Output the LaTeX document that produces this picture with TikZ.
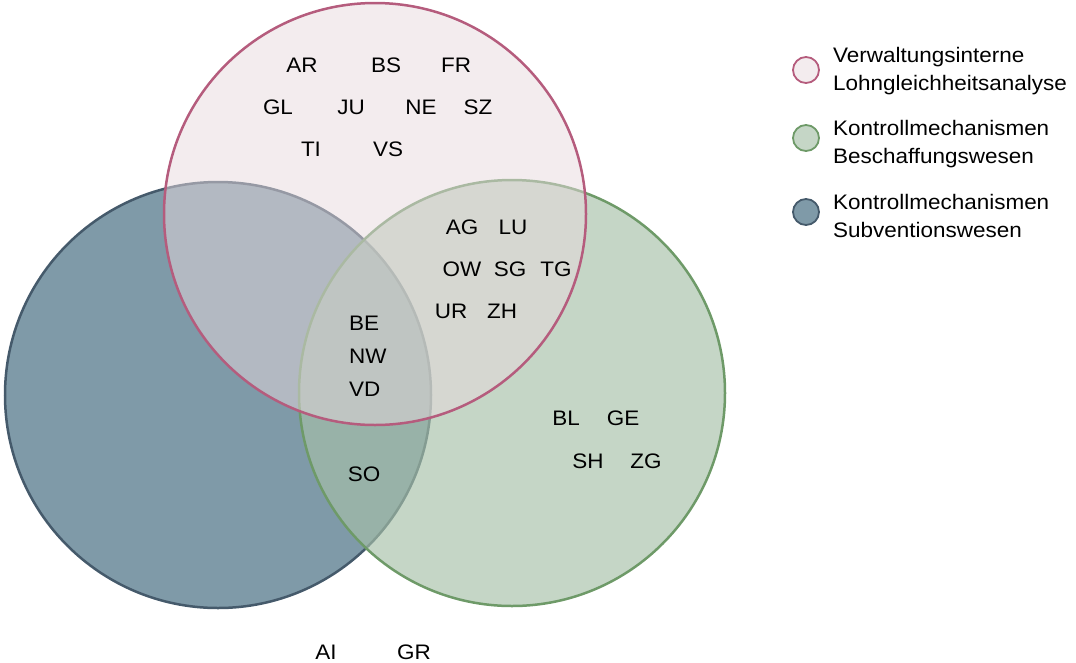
\documentclass[tikz,border=0pt]{standalone}
\usepackage{fontspec}
\setmainfont[FakeStretch=1.07]{Liberation Sans}
\definecolor{bfill}{RGB}{127,154,168}
\definecolor{bline}{RGB}{69,90,107}
\definecolor{gfill}{RGB}{166,192,168}
\definecolor{gline}{RGB}{110,154,104}
\definecolor{pfill}{RGB}{231,217,221}
\definecolor{pline}{RGB}{181,92,125}
\begin{document}
\begin{tikzpicture}[x=1pt,y=-1pt,
  lab/.style={font=\fontsize{21}{24}\selectfont, inner sep=0pt},
  leg/.style={font=\fontsize{21}{28}\selectfont, inner sep=0pt, anchor=west, align=left},
  bset/.style={fill=bfill, draw=bline, line width=2.5pt},
  gset/.style={fill=gfill, fill opacity=0.65, draw=gline, draw opacity=1, line width=2.5pt},
  pset/.style={fill=pfill, fill opacity=0.5, draw=pline, draw opacity=1, line width=2.5pt}]
\useasboundingbox (0,0) rectangle (1076,662);
\draw[bset] (218,395) circle[radius=213];
\draw[gset] (512,393) circle[radius=213];
\draw[pset] (375,214) circle[radius=211];
% labels
\node[lab] (ar) at (302,65) {AR};
\node[lab] (bs) at (386,65) {BS};
\node[lab] (fr) at (456,65) {FR};
\node[lab] (gl) at (278,107) {GL};
\node[lab] (ju) at (351,107) {JU};
\node[lab] (ne) at (421,107) {NE};
\node[lab] (sz) at (478,107) {SZ};
\node[lab] (ti) at (311,149) {TI};
\node[lab] (vs) at (388,149) {VS};
\node[lab] (ag) at (462,227) {AG};
\node[lab] (lu) at (513,227) {LU};
\node[lab] (ow) at (462,269) {OW};
\node[lab] (sg) at (510,269) {SG};
\node[lab] (tg) at (556,269) {TG};
\node[lab] (ur) at (451,311) {UR};
\node[lab] (zh) at (502,311) {ZH};
\node[lab,anchor=west] (be) at (349,323) {BE};
\node[lab,anchor=west] (nw) at (349,356) {NW};
\node[lab,anchor=west] (vd) at (349,389) {VD};
\node[lab] (so) at (364,474) {SO};
\node[lab] (bl) at (566,418) {BL};
\node[lab] (ge) at (623,418) {GE};
\node[lab] (sh) at (588,461) {SH};
\node[lab] (zg) at (646,461) {ZG};
\node[lab] (ai) at (326,652) {AI};
\node[lab] (gr) at (414,652) {GR};
% legend
\draw[pset,line width=1.8pt] (806,70) circle[radius=13];
\draw[gset,line width=1.8pt] (806,138) circle[radius=13];
\draw[bset,line width=1.8pt] (806,212) circle[radius=13];
\node[leg] (l1) at (833,71) {Verwaltungsinterne\\Lohngleichheitsanalyse};
\node[leg] (l2) at (833,144) {Kontrollmechanismen\\Beschaffungswesen};
\node[leg] (l3) at (833,216) {Kontrollmechanismen\\Subventionswesen};
\end{tikzpicture}
\end{document}
